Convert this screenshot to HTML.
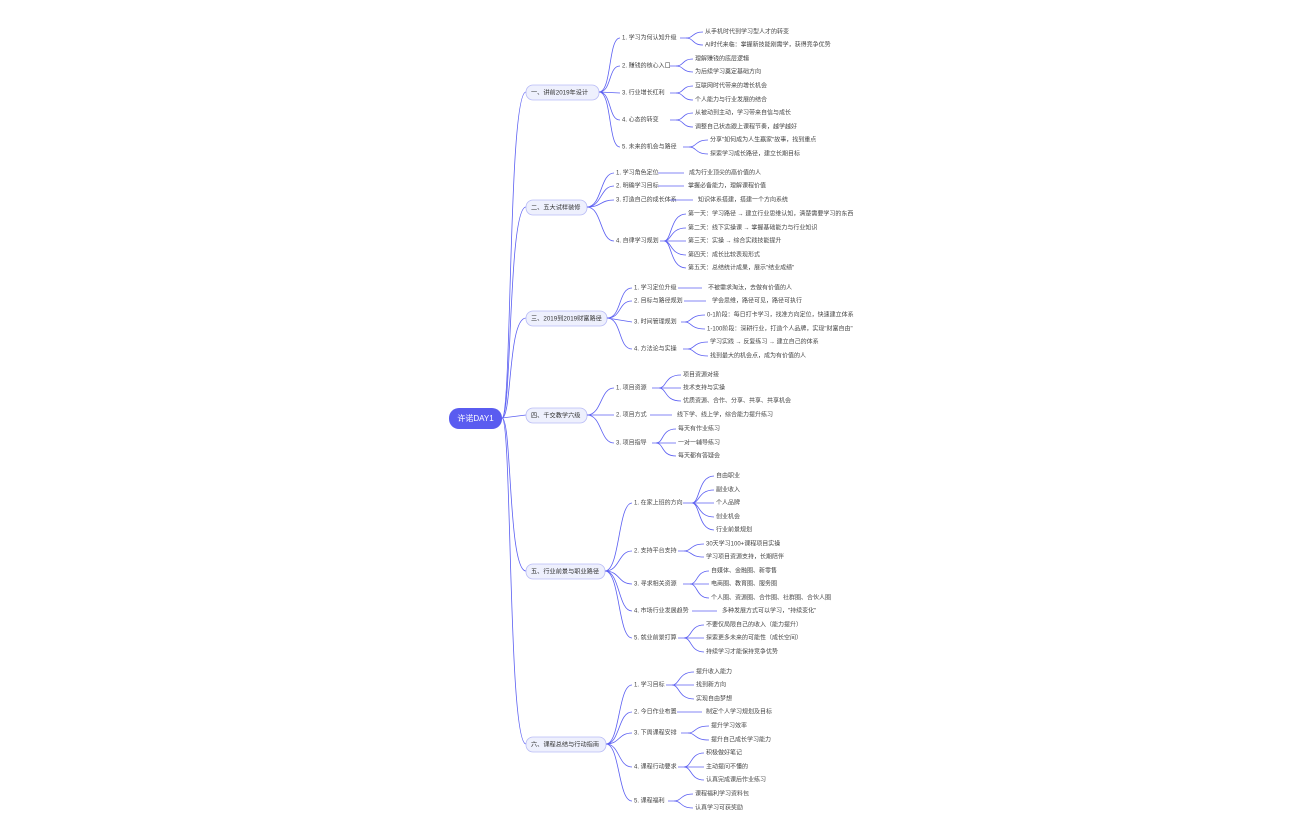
<!DOCTYPE html>
<html><head><meta charset="utf-8"><style>
html,body{margin:0;padding:0;background:#fff;width:1296px;height:840px;overflow:hidden}
svg{display:block}
text{font-family:"Liberation Sans","Noto Sans CJK SC",sans-serif;fill:#444;font-size:6px;dominant-baseline:middle}
.l1{font-size:6.2px;fill:#333}
path,line{fill:none;stroke:#5b5ff2;stroke-width:0.8}
.nd{fill:#eef0fd;stroke:#b9bcf6;stroke-width:0.8}
</style></head><body>
<svg width="1296" height="840" viewBox="0 0 1296 840" xmlns="http://www.w3.org/2000/svg">
<path d="M502 418 C512 418,508 92,526 92"/>
<path d="M502 418 C512 418,508 207,526 207"/>
<path d="M502 418 C512 418,508 318,526 318"/>
<path d="M502 418 L526 415"/>
<path d="M502 418 C512 418,508 571,526 571"/>
<path d="M502 418 C512 418,508 744,526 744"/>
<rect x="449" y="408" width="53" height="21" rx="10" fill="#5a5cf0"/>
<text x="475.5" y="419" text-anchor="middle" style="fill:#fff;font-size:8px">许诺DAY1</text>

<!-- Branch 1 -->
<rect class="nd" x="526" y="85" width="73" height="15" rx="7"/>
<text class="l1" x="531" y="93">一、讲前2019年设计</text>
<path d="M599 92 C612 92,608 38,620 38"/><path d="M599 92 C612 92,608 66,620 66"/><path d="M599 92 L620 93"/><path d="M599 92 C612 92,608 120,620 120"/><path d="M599 92 C612 92,608 147,620 147"/>
<text x="622" y="38">1. 学习为何认知升级</text>
<path d="M680 38 L686 38 C694 38,692 32,703 32"/><path d="M686 38 C694 38,692 45,703 45"/>
<text x="705" y="32">从手机时代到学习型人才的转变</text><text x="705" y="45">AI时代来临：掌握新技能刚需学，获得竞争优势</text>
<text x="622" y="66">2. 赚钱的核心入口</text>
<path d="M670 66 L676 66 C684 66,682 59,693 59"/><path d="M676 66 C684 66,682 72,693 72"/>
<text x="695" y="59">理解赚钱的底层逻辑</text><text x="695" y="72">为后续学习奠定基础方向</text>
<text x="622" y="93">3. 行业增长红利</text>
<path d="M670 93 L676 93 C684 93,682 86,693 86"/><path d="M676 93 C684 93,682 100,693 100"/>
<text x="695" y="86">互联网时代带来的增长机会</text><text x="695" y="100">个人能力与行业发展的结合</text>
<text x="622" y="120">4. 心态的转变</text>
<path d="M670 120 L676 120 C684 120,682 113,693 113"/><path d="M676 120 C684 120,682 127,693 127"/>
<text x="695" y="113">从被动到主动，学习带来自信与成长</text><text x="695" y="127">调整自己状态跟上课程节奏，越学越好</text>
<text x="622" y="147">5. 未来的机会与路径</text>
<path d="M683 147 L689 147 C697 147,695 140,708 140"/><path d="M689 147 C697 147,695 154,708 154"/>
<text x="710" y="140">分享"如何成为人生赢家"故事，找到重点</text><text x="710" y="154">探索学习成长路径，建立长期目标</text>

<!-- Branch 2 -->
<rect class="nd" x="526" y="200" width="61" height="15" rx="7"/>
<text class="l1" x="531" y="208">二、五大试样装修</text>
<path d="M587 207 C602 207,600 173,614 173"/><path d="M587 207 C602 207,600 186,614 186"/><path d="M587 207 C602 207,600 200,614 200"/><path d="M587 207 C602 207,600 241,614 241"/>
<text x="616" y="173">1. 学习角色定位</text><line x1="658" y1="173" x2="684" y2="173"/><text x="689" y="173">成为行业顶尖的高价值的人</text>
<text x="616" y="186">2. 明确学习目标</text><line x1="658" y1="186" x2="684" y2="186"/><text x="688" y="186">掌握必备能力，理解课程价值</text>
<text x="616" y="200">3. 打造自己的成长体系</text><line x1="670" y1="200" x2="693" y2="200"/><text x="698" y="200">知识体系搭建，搭建一个方向系统</text>
<text x="616" y="241">4. 自律学习规划</text>
<path d="M660 241 L664 241 C672 241,670 214,686 214"/><path d="M664 241 C672 241,670 228,686 228"/><path d="M664 241 L686 241"/><path d="M664 241 C672 241,670 255,686 255"/><path d="M664 241 C672 241,670 268,686 268"/>
<text x="688" y="214">第一天：学习路径 → 建立行业思维认知，清楚需要学习的东西</text>
<text x="688" y="228">第二天：线下实操课 → 掌握基础能力与行业知识</text>
<text x="688" y="241">第三天：实操 → 综合实践技能提升</text>
<text x="688" y="255">第四天：成长比较表现形式</text>
<text x="688" y="268">第五天：总结统计成果，展示"结业成绩"</text>

<!-- Branch 3 -->
<rect class="nd" x="526" y="311" width="81" height="15" rx="7"/>
<text class="l1" x="531" y="319">三、2019到2019财富路径</text>
<path d="M607 318 C622 318,618 288,632 288"/><path d="M607 318 C622 318,618 301,632 301"/><path d="M607 318 L632 322"/><path d="M607 318 C622 318,618 349,632 349"/>
<text x="634" y="288">1. 学习定位升级</text><line x1="678" y1="288" x2="702" y2="288"/><text x="708" y="288">不被需求淘汰，去做有价值的人</text>
<text x="634" y="301">2. 目标与路径规划</text><line x1="684" y1="301" x2="706" y2="301"/><text x="712" y="301">学会思维，路径可见，路径可执行</text>
<text x="634" y="322">3. 时间管理规划</text>
<path d="M681 322 L685 322 C692 322,690 315,705 315"/><path d="M685 322 C692 322,690 329,705 329"/>
<text x="707" y="315">0-1阶段：每日打卡学习，找准方向定位，快速建立体系</text><text x="707" y="329">1-100阶段：深耕行业，打造个人品牌，实现"财富自由"</text>
<text x="634" y="349">4. 方法论与实操</text>
<path d="M683 349 L688 349 C695 349,693 342,708 342"/><path d="M688 349 C695 349,693 356,708 356"/>
<text x="710" y="342">学习实践 → 反复练习 → 建立自己的体系</text><text x="710" y="356">找到最大的机会点，成为有价值的人</text>

<!-- Branch 4 -->
<rect class="nd" x="526" y="408" width="61" height="15" rx="7"/>
<text class="l1" x="531" y="416">四、千交教学六级</text>
<path d="M587 415 C602 415,600 388,614 388"/><path d="M587 415 L614 415"/><path d="M587 415 C602 415,600 443,614 443"/>
<text x="616" y="388">1. 项目资源</text>
<path d="M652 388 L659 388 C667 388,664 375,681 375"/><path d="M659 388 L681 388"/><path d="M659 388 C667 388,664 401,681 401"/>
<text x="683" y="375">项目资源对接</text><text x="683" y="388">技术支持与实操</text><text x="683" y="401">优质资源、合作、分享、共享、共享机会</text>
<text x="616" y="415">2. 项目方式</text><line x1="650" y1="415" x2="672" y2="415"/><text x="677" y="415">线下学、线上学，综合能力提升练习</text>
<text x="616" y="443">3. 项目指导</text>
<path d="M652 443 L656 443 C664 443,661 429,676 429"/><path d="M656 443 L676 443"/><path d="M656 443 C664 443,661 456,676 456"/>
<text x="678" y="429">每天有作业练习</text><text x="678" y="443">一对一辅导练习</text><text x="678" y="456">每天都有答疑会</text>

<!-- Branch 5 -->
<rect class="nd" x="526" y="564" width="79" height="15" rx="7"/>
<text class="l1" x="531" y="572">五、行业前景与职业路径</text>
<path d="M605 571 C620 571,618 503,632 503"/><path d="M605 571 C620 571,618 551,632 551"/><path d="M605 571 C620 571,618 584,632 584"/><path d="M605 571 C620 571,618 611,632 611"/><path d="M605 571 C620 571,618 638,632 638"/>
<text x="634" y="503">1. 在家上班的方向</text>
<path d="M683 503 L692 503 C700 503,698 476,714 476"/><path d="M692 503 C700 503,698 490,714 490"/><path d="M692 503 L714 503"/><path d="M692 503 C700 503,698 517,714 517"/><path d="M692 503 C700 503,698 530,714 530"/>
<text x="716" y="476">自由职业</text><text x="716" y="490">副业收入</text><text x="716" y="503">个人品牌</text><text x="716" y="517">创业机会</text><text x="716" y="530">行业前景规划</text>
<text x="634" y="551">2. 支持平台支持</text>
<path d="M678 551 L684 551 C692 551,690 544,704 544"/><path d="M684 551 C692 551,690 557,704 557"/>
<text x="706" y="544">30天学习100+课程项目实操</text><text x="706" y="557">学习项目资源支持，长期陪伴</text>
<text x="634" y="584">3. 寻求相关资源</text>
<path d="M683 584 L690 584 C698 584,696 571,709 571"/><path d="M690 584 L709 584"/><path d="M690 584 C698 584,696 598,709 598"/>
<text x="711" y="571">自媒体、金融圈、新零售</text><text x="711" y="584">电商圈、教育圈、服务圈</text><text x="711" y="598">个人圈、资源圈、合作圈、社群圈、合伙人圈</text>
<text x="634" y="611">4. 市场行业发展趋势</text><line x1="692" y1="611" x2="717" y2="611"/><text x="722" y="611">多种发展方式可以学习，"持续变化"</text>
<text x="634" y="638">5. 就业前景打算</text>
<path d="M678 638 L684 638 C692 638,690 625,704 625"/><path d="M684 638 L704 638"/><path d="M684 638 C692 638,690 652,704 652"/>
<text x="706" y="625">不要仅局限自己的收入（能力提升）</text><text x="706" y="638">探索更多未来的可能性（成长空间）</text><text x="706" y="652">持续学习才能保持竞争优势</text>

<!-- Branch 6 -->
<rect class="nd" x="526" y="737" width="80" height="15" rx="7"/>
<text class="l1" x="531" y="745">六、课程总结与行动指南</text>
<path d="M606 744 C620 744,618 685,632 685"/><path d="M606 744 C620 744,618 712,632 712"/><path d="M606 744 C620 744,618 733,632 733"/><path d="M606 744 C620 744,618 767,632 767"/><path d="M606 744 C620 744,618 801,632 801"/>
<text x="634" y="685">1. 学习目标</text>
<path d="M666 685 L672 685 C680 685,678 672,694 672"/><path d="M672 685 L694 685"/><path d="M672 685 C680 685,678 699,694 699"/>
<text x="696" y="672">提升收入能力</text><text x="696" y="685">找到新方向</text><text x="696" y="699">实现自由梦想</text>
<text x="634" y="712">2. 今日作业布置</text><line x1="677" y1="712" x2="702" y2="712"/><text x="706" y="712">制定个人学习规划及目标</text>
<text x="634" y="733">3. 下周课程安排</text>
<path d="M681 733 L688 733 C696 733,694 726,709 726"/><path d="M688 733 C696 733,694 740,709 740"/>
<text x="711" y="726">提升学习效率</text><text x="711" y="740">提升自己成长学习能力</text>
<text x="634" y="767">4. 课程行动要求</text>
<path d="M678 767 L684 767 C692 767,690 753,704 753"/><path d="M684 767 L704 767"/><path d="M684 767 C692 767,690 780,704 780"/>
<text x="706" y="753">积极做好笔记</text><text x="706" y="767">主动提问不懂的</text><text x="706" y="780">认真完成课后作业练习</text>
<text x="634" y="801">5. 课程福利</text>
<path d="M668 801 L674 801 C682 801,680 794,693 794"/><path d="M674 801 C682 801,680 808,693 808"/>
<text x="695" y="794">课程福利学习资料包</text><text x="695" y="808">认真学习可获奖励</text>
</svg>
</body></html>
